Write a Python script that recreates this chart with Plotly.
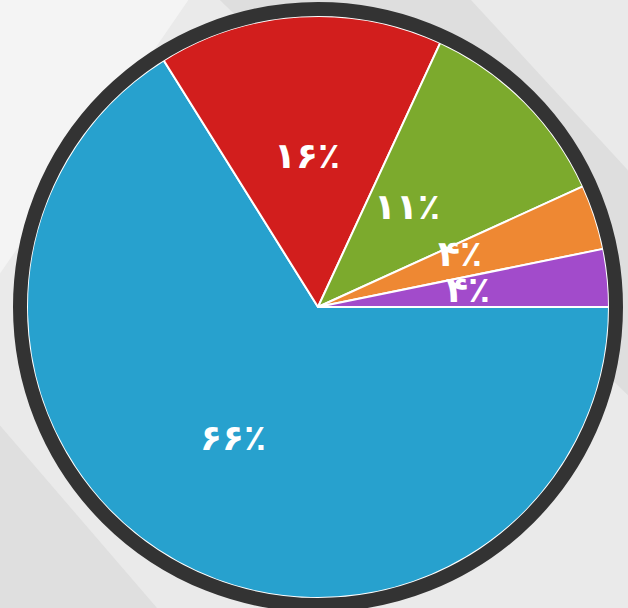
import math
import plotly.graph_objects as go

# slice order: clockwise starting at 3 o'clock
shares = [66.1, 15.8, 11.3, 3.6, 3.2]
labels = ["آبی", "قرمز", "سبز", "نارنجی", "بنفش"]
text_labels = ["۶۶٪", "۱۶٪", "۱۱٪", "۴٪", "۴٪"]
slice_colors = ["#27A1CE", "#D21E1D", "#7CAA2D", "#EE8833", "#A24BCB"]

W, H = 628, 608
cx, cy, r = 318, 307, 291  # pixels from top-left
ring = 14

fig = go.Figure()

# soft grey backdrop panels
fig.add_shape(type="path", xref="paper", yref="paper", layer="below",
              path="M 0.35 1 L 0.75 1 L 1 0.72 L 1 0.35 Z",
              fillcolor="#DEDEDE", line=dict(width=0))
fig.add_shape(type="path", xref="paper", yref="paper", layer="below",
              path="M 0 1 L 0.3 1 L 0.0 0.55 Z",
              fillcolor="#F4F4F4", line=dict(width=0))
fig.add_shape(type="path", xref="paper", yref="paper", layer="below",
              path="M 0 0 L 0.25 0 L 0 0.3 Z",
              fillcolor="#DFDFDF", line=dict(width=0))

fig.add_trace(
    go.Pie(
        labels=labels,
        values=shares,
        textinfo="none",
        sort=False,
        direction="clockwise",
        rotation=90,
        marker=dict(colors=slice_colors, line=dict(color="white", width=2)),
        hoverinfo="label+percent",
        domain=dict(
            x=[(cx - r) / W, (cx + r) / W],
            y=[(H - cy - r) / H, (H - cy + r) / H],
        ),
        showlegend=False,
    )
)

# slice labels placed on each slice's middle angle
total = sum(shares)
cum = 0.0
for s, t in zip(shares, text_labels):
    mid = -math.radians((cum + s / 2) / total * 360)
    cum += s
    rr = r * 0.6
    fig.add_annotation(
        x=(cx + rr * math.cos(mid)) / W,
        y=(H - cy + rr * math.sin(mid)) / H,
        xref="paper",
        yref="paper",
        text=t,
        showarrow=False,
        font=dict(family="DejaVu Sans", size=36, color="white", weight="bold"),
    )

# dark outer rim
ro = r + ring / 2
fig.add_shape(
    type="circle",
    xref="paper",
    yref="paper",
    x0=(cx - ro) / W,
    x1=(cx + ro) / W,
    y0=(H - cy - ro) / H,
    y1=(H - cy + ro) / H,
    line=dict(color="#333333", width=ring),
)

fig.update_layout(
    width=W,
    height=H,
    margin=dict(l=0, r=0, t=0, b=0),
    paper_bgcolor="#EAEAEA",
    plot_bgcolor="#EAEAEA",
)

fig.write_html("out.html", config={"displayModeBar": False},
               post_script="document.body.style.margin='0';")
